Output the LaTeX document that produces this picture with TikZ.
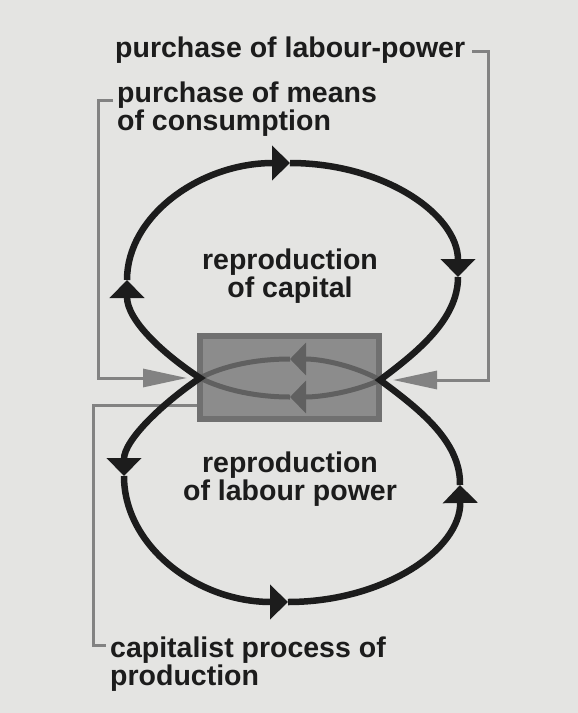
\documentclass[tikz,border=0pt]{standalone}
\usepackage{fontspec}
\newfontfamily\lblfont{Liberation Sans}
\usetikzlibrary{arrows.meta}
\definecolor{pagebg}{RGB}{228,228,226}
\definecolor{ink}{RGB}{28,28,28}
\definecolor{boxfill}{RGB}{140,140,140}
\definecolor{boxline}{RGB}{112,112,112}
\definecolor{lensgray}{RGB}{96,96,96}
\definecolor{feedgray}{RGB}{130,130,130}
\tikzset{
  lbl/.style={font=\lblfont\bfseries\fontsize{28.5}{25}\selectfont, inner sep=0pt, text=ink},
  blackloop/.style={draw=ink, line width=6.5pt, line join=miter},
  lensline/.style={draw=lensgray, line width=5pt, line join=miter},
  feedline/.style={draw=feedgray, line width=3pt},
  blacktip/.tip={Triangle[length=18pt,width=34pt]},
  lenstip/.tip={Triangle[length=16pt,width=32pt]},
  feedtip/.tip={Triangle[length=44pt,width=18pt]}
}
\begin{document}
\begin{tikzpicture}[x=1pt, y=-1pt]
        \fill[pagebg] (0,0) rectangle (578,713);
        \useasboundingbox (0,0) rectangle (578,713);
        %labels (base = last line)
        \node[lbl, anchor=base west] (labour) at (115,57) {purchase of labour-power};
        \node[lbl, anchor=base west, align=left] (means) at (117,130) {purchase of means\\of consumption};
        \node[lbl, anchor=base, align=center] (capital) at (290,297) {reproduction\\of capital};
        \node[lbl, anchor=base, align=center] (labpow) at (290,500) {reproduction\\of labour power};
        \node[lbl, anchor=base west, align=left] (process) at (110,685) {capitalist process of\\production};
        %the box in the middle
        \node[draw=boxline, fill=boxfill, line width=6pt, minimum width=179pt, minimum height=83pt, inner sep=0pt] (exch) at (289.5,377.5) {};
        %crossing points and arrow points
        \coordinate (L) at (200,378);
        \coordinate (R) at (380,380);
        \coordinate (ul) at (127,280);
        \coordinate (ut) at (290,163);
        \coordinate (ur) at (458,277);
        \coordinate (ll) at (124,476);
        \coordinate (lb) at (288,602);
        \coordinate (lr) at (460,485);
        \coordinate (mu) at (290,359);
        \coordinate (md) at (290,397);
        %feed lines
        \coordinate (pl) at (472,51);
        \coordinate (plc) at (488,380);
        \coordinate (plt) at (393,380);
        \coordinate (pm) at (113,100);
        \coordinate (pmc) at (98,378);
        \coordinate (pmt) at (187,378);
        \coordinate (pp) at (197,405);
        \coordinate (ppc) at (93,645);
        \coordinate (ppe) at (106,645);
        \draw[feedline, -{feedtip}] (pl) -| (plc) -- (plt);
        \draw[feedline, -{feedtip}] (pm) -| (pmc) -- (pmt);
        \draw[feedline] (pp) -| (ppc) -- (ppe);
        %lens inside the box
        \draw[lensline, -{lenstip}] (R) .. controls (355,366) and (322.5,359) .. (mu);
        \draw[lensline, -{lenstip}] (R) .. controls (355,391.5) and (322.5,397) .. (md);
        \draw[lensline] (mu) .. controls (257.5,359) and (225,365) .. (L)
                             .. controls (225,390.5) and (257.5,397) .. (md);
        %upper loop
        \draw[blackloop, {blacktip}-{blacktip}] (ul) .. controls (127,320) and (162,353) .. (L)
                             .. controls (163,403) and (124,440) .. (ll);
        \draw[blackloop, -{blacktip}] (ul) .. controls (127,216) and (200,163) .. (ut);
        \draw[blackloop, -{blacktip}] (ut) .. controls (383,163) and (458,214) .. (ur);
        %right side through R
        \draw[blackloop] (ur) .. controls (458,320) and (416,353) .. (R)
                             .. controls (416,407) and (461,440) .. (lr);
        %lower loop
        \draw[blackloop, -{blacktip}] (ll) .. controls (124,546) and (197,602) .. (lb);
        \draw[blackloop, -{blacktip}] (lb) .. controls (383,602) and (461,550) .. (lr);
\end{tikzpicture}
\end{document}
